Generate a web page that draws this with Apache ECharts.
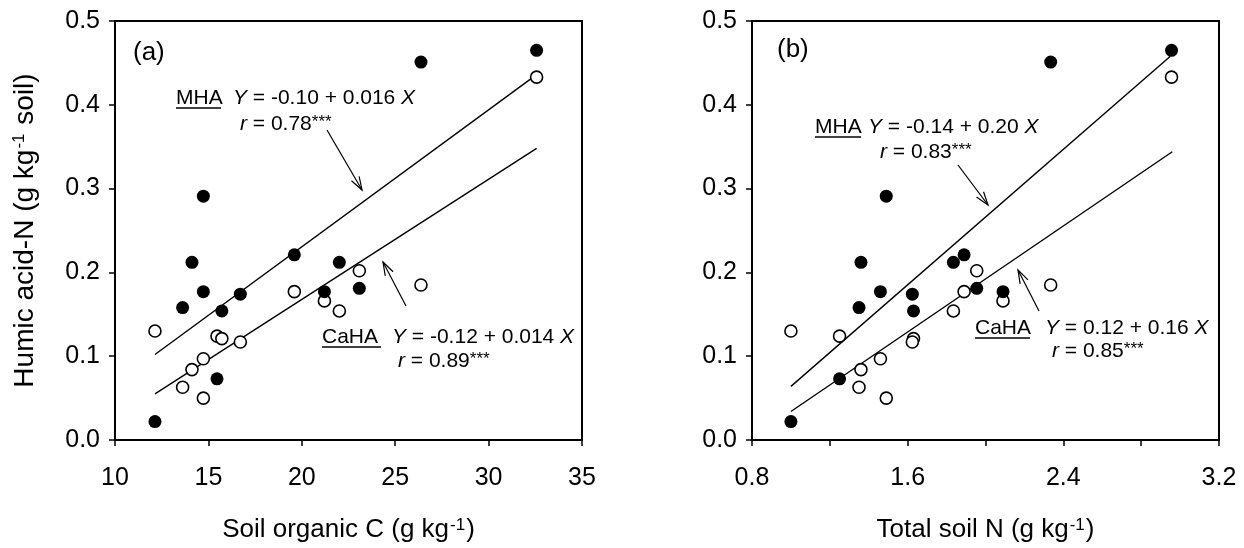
<!DOCTYPE html>
<html>
<head>
<meta charset="utf-8">
<script src="https://cdn.jsdelivr.net/npm/echarts@6/dist/echarts.min.js"></script>
<style>
html, body { margin: 0; padding: 0; background: #fff; }
#chart { width: 1244px; height: 548px; }
</style>
</head>
<body>
<div id="chart"></div>
<script>
// 14 soils, same order in every array
var soilC = [12.14, 13.62, 14.12, 14.73, 14.73, 15.46, 15.72, 16.71, 19.60, 21.21, 22.01, 23.08, 26.38, 32.57];
var soilN = [1.00, 1.35, 1.36, 1.46, 1.49, 1.25, 1.63, 1.624, 1.89, 2.09, 1.835, 1.955, 2.335, 2.956];
var mhaN  = [0.022, 0.158, 0.212, 0.177, 0.291, 0.073, 0.154, 0.174, 0.221, 0.177, 0.212, 0.181, 0.451, 0.465];
var cahaN = [0.130, 0.063, 0.084, 0.097, 0.050, 0.124, 0.121, 0.117, 0.177, 0.166, 0.154, 0.202, 0.185, 0.433];

// fitted lines, end points
var fitMhaC  = [[12.14, 0.102], [32.57, 0.436]];
var fitCahaC = [[12.14, 0.055], [32.57, 0.348]];
var fitMhaN  = [[1.00, 0.064], [2.95, 0.458]];
var fitCahaN = [[1.00, 0.034], [2.96, 0.344]];

var xTicksC = [10, 35, 5];
var xTicksN = [0.8, 3.2, 0.8];
var yTicks  = [0, 0.5, 0.1];

var FONT = '"Liberation Sans", Arial, sans-serif';

function pairs(xs, ys) {
	return xs.map(function (x, i) { return [x, ys[i]]; });
}

var myChart = echarts.init(document.getElementById('chart'));

function nameStyle(size) {
	return {
		fontFamily: FONT, fontSize: size, color: '#000',
		rich: { sup: { fontFamily: FONT, fontSize: 17, color: '#000', verticalAlign: 'top', padding: [0, 1, 0, 1] } }
	};
}

function xAxisOf(idx, ticks, name, minor) {
	return {
		type: 'value', gridIndex: idx,
		min: ticks[0], max: ticks[1], interval: ticks[2],
		name: name, nameLocation: 'middle', nameGap: 77,
		nameTextStyle: nameStyle(26),
		axisLine: { show: true, onZero: false, lineStyle: { color: '#000', width: 2 } },
		axisTick: { show: true, inside: false, length: 6, lineStyle: { color: '#000', width: 1.5 } },
		minorTick: { show: minor, splitNumber: 2, length: 6, lineStyle: { color: '#000', width: 1.5 } },
		axisLabel: {
			margin: 26, fontFamily: FONT, fontSize: 25, color: '#000',
			formatter: function (v) { return ticks[2] < 1 ? v.toFixed(1) : String(v); }
		},
		splitLine: { show: false }
	};
}

function yAxisOf(idx, name) {
	return {
		type: 'value', gridIndex: idx,
		min: yTicks[0], max: yTicks[1], interval: yTicks[2],
		name: name, nameLocation: 'middle', nameGap: 76, nameRotate: 90,
		nameTextStyle: nameStyle(28),
		axisLine: { show: true, onZero: false, lineStyle: { color: '#000', width: 2 } },
		axisTick: { show: true, inside: false, length: 6, lineStyle: { color: '#000', width: 1.5 } },
		axisLabel: {
			margin: 15, fontFamily: FONT, fontSize: 25, color: '#000',
			formatter: function (v) { return v.toFixed(1); }
		},
		splitLine: { show: false }
	};
}

function filled(xi, data) {
	return {
		type: 'scatter', xAxisIndex: xi, yAxisIndex: xi, z: 5,
		symbol: 'circle', symbolSize: 13,
		itemStyle: { color: '#000', opacity: 1 },
		data: data
	};
}
function hollow(xi, data) {
	return {
		type: 'scatter', xAxisIndex: xi, yAxisIndex: xi, z: 4,
		symbol: 'circle', symbolSize: 12,
		itemStyle: { color: '#fff', borderColor: '#000', borderWidth: 1.6, opacity: 1 },
		data: data
	};
}
function fit(xi, data) {
	return {
		type: 'line', xAxisIndex: xi, yAxisIndex: xi, z: 3,
		showSymbol: false, symbol: 'none', silent: true,
		lineStyle: { color: '#000', width: 1.4 },
		data: data
	};
}

// annotation helpers (pixel layout)
function txt(x, y, text, size) {
	return {
		type: 'text', x: x, y: y, z: 10,
		style: {
			text: text, fontFamily: FONT, fontSize: size || 21, fill: '#000',
			align: 'left', verticalAlign: 'middle',
			rich: {
				i: { fontFamily: FONT, fontSize: size || 21, fontStyle: 'italic', fill: '#000' },
				s: { fontFamily: FONT, fontSize: 17, fill: '#000', verticalAlign: 'top' }
			}
		}
	};
}
function uline(x1, x2, y) {
	return { type: 'line', z: 10, shape: { x1: x1, y1: y, x2: x2, y2: y }, style: { stroke: '#000', lineWidth: 1.3 } };
}
function arrow(x1, y1, x2, y2) {
	var a = Math.atan2(y2 - y1, x2 - x1), L = 14, s = 0.32;
	return [
		{ type: 'line', z: 10, shape: { x1: x1, y1: y1, x2: x2, y2: y2 }, style: { stroke: '#000', lineWidth: 1.2 } },
		{ type: 'polyline', z: 10, shape: { points: [
			[x2 - L * Math.cos(a - s), y2 - L * Math.sin(a - s)], [x2, y2],
			[x2 - L * Math.cos(a + s), y2 - L * Math.sin(a + s)]] },
		  style: { stroke: '#000', lineWidth: 1.2, fill: null } }
	];
}

var notes = [
	txt(133, 53, '(a)', 26),
	txt(176, 98, 'MHA'), uline(176, 221, 108),
	txt(233, 98, '{i|Y} = -0.10 + 0.016 {i|X}'),
	txt(240, 124, '{i|r} = 0.78{s|***}'),
	txt(322, 337, 'CaHA'), uline(322, 381, 347),
	txt(392, 337, '{i|Y} = -0.12 + 0.014 {i|X}'),
	txt(398, 361, '{i|r} = 0.89{s|***}'),
	txt(777, 50, '(b)', 26),
	txt(815, 127, 'MHA'), uline(815, 861, 137),
	txt(868, 127, '{i|Y} = -0.14 + 0.20 {i|X}'),
	txt(880, 152, '{i|r} = 0.83{s|***}'),
	txt(975, 328, 'CaHA'), uline(975, 1030, 338),
	txt(1045, 328, '{i|Y} = 0.12 + 0.16 {i|X}'),
	txt(1052, 351, '{i|r} = 0.85{s|***}')
].concat(
	arrow(327, 130, 362, 190),
	arrow(406, 306, 383, 262),
	arrow(958, 165, 988, 205),
	arrow(1039, 311, 1018, 270)
);

myChart.setOption({
	backgroundColor: '#fff',
	animation: false,
	textStyle: { fontFamily: FONT },
	grid: [
		{ left: 115, top: 21, width: 467, height: 421, show: true, borderColor: '#000', borderWidth: 2, containLabel: false },
		{ left: 752, top: 21, width: 467, height: 421, show: true, borderColor: '#000', borderWidth: 2, containLabel: false }
	],
	xAxis: [
		xAxisOf(0, xTicksC, 'Soil organic C (g kg{sup|-1})', false),
		xAxisOf(1, xTicksN, 'Total soil N (g kg{sup|-1})', true)
	],
	yAxis: [
		yAxisOf(0, 'Humic acid-N (g kg{sup|-1} soil)'),
		yAxisOf(1, '')
	],
	series: [
		fit(0, fitMhaC), fit(0, fitCahaC),
		hollow(0, pairs(soilC, cahaN)), filled(0, pairs(soilC, mhaN)),
		fit(1, fitMhaN), fit(1, fitCahaN),
		hollow(1, pairs(soilN, cahaN)), filled(1, pairs(soilN, mhaN))
	],
	graphic: notes
});
</script>
</body>
</html>
